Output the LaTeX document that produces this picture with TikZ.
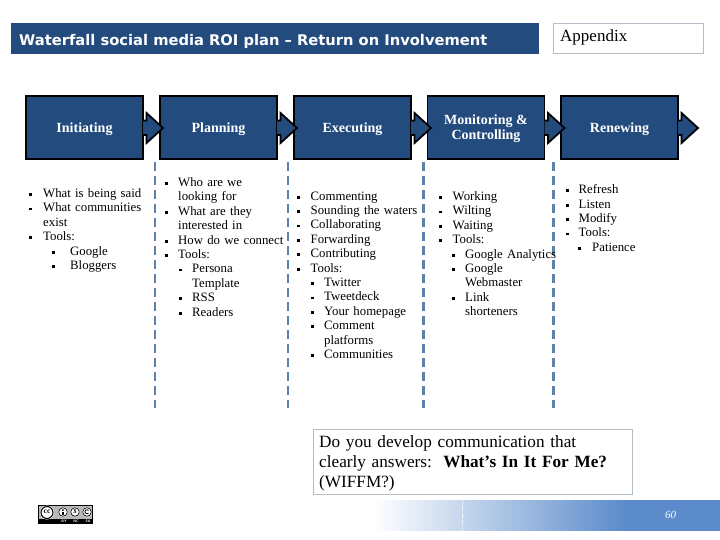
\documentclass[tikz,border=0pt]{standalone}
\usepackage{fontspec}
\setmainfont{Liberation Serif}
\newfontfamily\titlefont{DejaVu Sans}
\definecolor{navy}{HTML}{234B7D}
\definecolor{dashblue}{HTML}{5F82AA}
\definecolor{barblue}{HTML}{5B8BCB}
\definecolor{frameg}{HTML}{B4BEC8}
\tikzset{
  x=1pt,y=-1pt,
  phasebox/.style={draw=black,line width=1.8pt,fill=navy,minimum width=117pt,minimum height=63pt,inner sep=2pt},
  phaselabel/.style={inner sep=0pt,yshift=-1.5pt,align=center,text=white,font=\fontsize{14}{15}\selectfont\bfseries},
  chev/.style={draw=black,line width=1.8pt,fill=navy,line join=miter},
  sep/.style={dashblue,line width=2.5pt,dash pattern=on 9pt off 5pt},
  listtext/.style={anchor=north west,inner sep=0pt,font=\fontsize{12.8}{14.4}\selectfont,text width=#1,align=left},
  framed/.style={draw=frameg,line width=.7pt,inner sep=0pt},
}
\newcommand{\bul}[2]{\makebox[0pt][r]{\raisebox{.12em}{\rule{2.8pt}{2.8pt}}\hspace{#1}}#2}
\begin{document}
\begin{tikzpicture}
\useasboundingbox (0,0) rectangle (720,540);
\fill[white] (0,0) rectangle (720,540);
% title
\node[fill=navy,minimum width=528pt,minimum height=31pt,inner sep=0pt,anchor=north west] (title) at (11,23) {};
\node[anchor=west,text=white,inner sep=0pt,font=\titlefont\fontsize{14.7}{16}\selectfont\bfseries] (titletext) at (19,41) {Waterfall social media ROI plan – Return on Involvement};
\node[framed,minimum width=150pt,minimum height=30pt,anchor=north west] (app) at (552.5,23.5) {};
\node[anchor=west,inner sep=0pt,font=\fontsize{17}{19}\selectfont] (apptext) at (560,37) {Appendix};
% boxes
\node[phasebox] (b1) at (84.5,127.5) {};
\node[phasebox] (b2) at (218.5,127.5) {};
\node[phasebox] (b3) at (352.5,127.5) {};
\node[phasebox] (b4) at (486,127.5) {};
\node[phasebox] (b5) at (619.5,127.5) {};
\node[phaselabel] (t1) at (b1.center) {Initiating};
\node[phaselabel] (t2) at (b2.center) {Planning};
\node[phaselabel] (t3) at (b3.center) {Executing};
\node[phaselabel] (t4) at (b4.center) {Monitoring \&\\Controlling};
\node[phaselabel] (t5) at (b5.center) {Renewing};
% chevrons, on top of the boxes
\foreach \n/\bx in {c1/143,c2/277,c3/411,c4/544.5,c5/678}{
  \draw[chev] (\bx,120.5) -- (\bx+3.5,120.5) -- (\bx+3.5,113) -- (\bx+20,128) -- (\bx+3.5,143) -- (\bx+3.5,135) -- (\bx,135);
}
% separators
\foreach \sx in {155,288,423.5,553.5}{
  \draw[sep] (\sx,162) -- (\sx,408);
}
% lists
\node[listtext=110pt] (l1) at (43,188.5) {\bul{11pt}{What is being said}\\\bul{11pt}{What communities}\\exist\\\bul{11pt}{Tools:}\\\hspace{27pt}\bul{15.5pt}{Google}\\\hspace{27pt}\bul{15.5pt}{Bloggers}};
\node[listtext=115pt] (l2) at (178,177.5) {\bul{10pt}{Who are we}\\looking for\\\bul{10pt}{What are they}\\interested in\\\bul{10pt}{How do we connect}\\\bul{10pt}{Tools:}\\\hspace{14pt}\bul{10.5pt}{Persona}\\\hspace{14pt}Template\\\hspace{14pt}\bul{10.5pt}{RSS}\\\hspace{14pt}\bul{10.5pt}{Readers}};
\node[listtext=125pt] (l3) at (310.5,191.5) {\bul{10.5pt}{Commenting}\\\bul{10.5pt}{Sounding the waters}\\\bul{10.5pt}{Collaborating}\\\bul{10.5pt}{Forwarding}\\\bul{10.5pt}{Contributing}\\\bul{10.5pt}{Tools:}\\\hspace{13.5pt}\bul{10.5pt}{Twitter}\\\hspace{13.5pt}\bul{10.5pt}{Tweetdeck}\\\hspace{13.5pt}\bul{10.5pt}{Your homepage}\\\hspace{13.5pt}\bul{10.5pt}{Comment}\\\hspace{13.5pt}platforms\\\hspace{13.5pt}\bul{10.5pt}{Communities}};
\node[listtext=125pt] (l4) at (452.5,191.5) {\bul{11pt}{Working}\\\bul{11pt}{Wilting}\\\bul{11pt}{Waiting}\\\bul{11pt}{Tools:}\\\hspace{12.5pt}\bul{10.5pt}{Google Analytics}\\\hspace{12.5pt}\bul{10.5pt}{Google}\\\hspace{12.5pt}Webmaster\\\hspace{12.5pt}\bul{10.5pt}{Link}\\\hspace{12.5pt}shorteners};
\node[listtext=100pt] (l5) at (578.5,184.5) {\bul{10pt}{Refresh}\\\bul{10pt}{Listen}\\\bul{10pt}{Modify}\\\bul{10pt}{Tools:}\\\hspace{13.5pt}\bul{11.5pt}{Patience}};
% question
\node[framed,minimum width=319pt,minimum height=65pt,anchor=north west] (q) at (312.5,428.5) {};
\node[anchor=north west,inner sep=0pt,font=\fontsize{17.2}{20}\selectfont,text width=305pt,align=left] (qt) at (319,435.5) {Do you develop communication that\\clearly answers:\ \ \textbf{What’s In It For Me?}\\(WIFFM?)};
% footer bar
\foreach \i in {0,...,63}{
  \pgfmathsetmacro{\p}{100*(\i/63)}
  \fill[barblue!\p!white] (372+4*\i,500) rectangle (376.5+4*\i,531);
}
\fill[barblue] (624,500) rectangle (720,531);
\draw[white,line width=.6pt,dash pattern=on 5pt off 1.5pt] (463,500) -- (462,531);
\node[text=white,inner sep=0pt,font=\itshape\fontsize{11}{12}\selectfont] (pg) at (670.5,515) {60};
% cc badge
\fill[black] (38,505) rectangle (93,524);
\fill[gray!55] (39,506) rectangle (92,518.5);
\fill[white] (47,512.5) circle (7pt);
\draw[black,line width=1pt] (47,512.5) circle (6pt);
\node[inner sep=0pt,font=\bfseries\fontsize{7.5}{8}\selectfont] (cc) at (47,512) {cc};
\foreach \cx in {63,75,87}{
  \fill[white] (\cx,512) circle (5pt);
  \draw[black,line width=.7pt] (\cx,512) circle (4.3pt);
}
\fill[black] (63,510) circle (1pt);
\fill[black] (62,511.5) rectangle (64,515);
\node[inner sep=0pt,font=\bfseries\fontsize{6}{6}\selectfont] (nc) at (75,512) {\$};
\draw[black,line width=.8pt] (88.5,510.5) arc (40:320:2pt);
\foreach \tx/\tl in {64/BY,76/NC,88/SA}{
  \node[text=white,inner sep=0pt,font=\sffamily\bfseries\fontsize{3.6}{4}\selectfont] at (\tx,521.3) {\tl};
}
\end{tikzpicture}
\end{document}
